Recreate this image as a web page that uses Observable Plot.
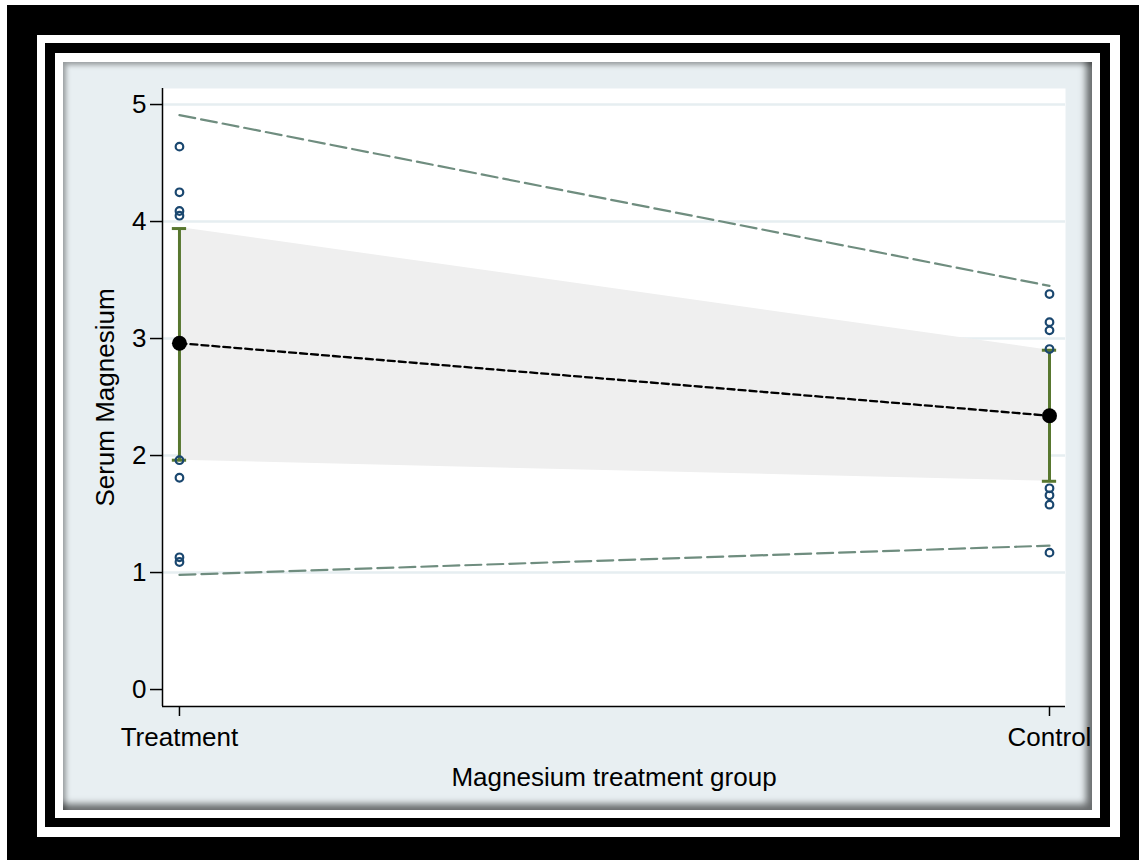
<!DOCTYPE html>
<html>
<head>
<meta charset="utf-8">
<script src="https://cdn.jsdelivr.net/npm/d3@7"></script>
<script src="https://cdn.jsdelivr.net/npm/@observablehq/plot@0.6"></script>
<style>
  html, body { margin: 0; padding: 0; background: #ffffff; }
  body { width: 1139px; height: 860px; position: relative; overflow: hidden; font-family: "Liberation Sans", Arial, sans-serif; }
  .box { position: absolute; }
  #chart { position: absolute; left: 0; top: 0; }
</style>
</head>
<body>
<div class="box" style="left:7px;top:5px;width:1132px;height:855px;background:#000;"></div>
<div class="box" style="left:37px;top:35px;width:1083px;height:802px;background:#fff;"></div>
<div class="box" style="left:45px;top:43px;width:1065px;height:784px;background:#000;"></div>
<div class="box" style="left:55px;top:53px;width:1045px;height:765px;background:#fff;"></div>
<div class="box" style="left:63px;top:62px;width:1029px;height:748px;background:#e8eff2;box-shadow: inset 5px 5px 5px -2px rgba(0,0,0,0.35), inset -9px -9px 7px -3px rgba(0,0,0,0.55);"></div>
<div id="chart"></div>
<script>
// ---- data ----
const groups = ["Treatment", "Control"];
const groupPos = [0, 1];
const treatmentObs = [4.64, 4.25, 4.09, 4.05, 1.96, 1.81, 1.13, 1.09];
const controlObs = [3.38, 3.14, 3.07, 2.91, 1.72, 1.66, 1.58, 1.17];
const means = [2.96, 2.34];
const ciLow = [1.96, 1.78];
const ciHigh = [3.94, 2.90];
const bandLow = [1.96, 1.78];
const bandHigh = [3.95, 2.90];
const piLow = [0.98, 1.23];
const piHigh = [4.91, 3.45];
const yTicks = [0, 1, 2, 3, 4, 5];
const gridTicks = [1, 2, 3, 4, 5];
const xLabel = "Magnesium treatment group";
const yLabel = "Serum Magnesium";

// ---- tables ----
const obs = [
  ...treatmentObs.map(v => ({x: groupPos[0], y: v})),
  ...controlObs.map(v => ({x: groupPos[1], y: v}))
];
const summary = groupPos.map((p, i) => ({
  x: p, mean: means[i], lo: ciLow[i], hi: ciHigh[i],
  bLo: bandLow[i], bHi: bandHigh[i], pLo: piLow[i], pHi: piHigh[i]
}));

const xDom = [-0.0195, 1.0184];
const yDom = [-0.145, 5.137];
const capHalf = 0.0082;
const font = "'Liberation Sans', Arial, sans-serif";

const chart = Plot.plot({
  width: 1139,
  height: 860,
  marginLeft: 162,
  marginRight: 74,
  marginTop: 88,
  marginBottom: 154,
  style: {background: "transparent", fontFamily: font, fontSize: "26px", color: "#000"},
  x: {type: "linear", domain: xDom},
  y: {type: "linear", domain: yDom},
  marks: [
    Plot.frame({fill: "#ffffff", stroke: null}),
    Plot.ruleY(gridTicks, {stroke: "#e6eef1", strokeWidth: 2.5}),
    Plot.areaY(summary, {x: "x", y1: "bLo", y2: "bHi", fill: "#efefef", curve: "linear"}),
    Plot.line(summary, {x: "x", y: "pHi", stroke: "#6f8d7f", strokeWidth: 2.2, strokeDasharray: "16,6"}),
    Plot.line(summary, {x: "x", y: "pLo", stroke: "#6f8d7f", strokeWidth: 2.2, strokeDasharray: "16,6"}),
    Plot.line(summary, {x: "x", y: "mean", stroke: "#000", strokeWidth: 2.3, strokeDasharray: "7,4"}),
    Plot.ruleX(summary, {x: "x", y1: "lo", y2: "hi", stroke: "#58772f", strokeWidth: 3}),
    Plot.ruleY(summary, {y: "lo", x1: d => d.x - capHalf, x2: d => d.x + capHalf, stroke: "#58772f", strokeWidth: 3}),
    Plot.ruleY(summary, {y: "hi", x1: d => d.x - capHalf, x2: d => d.x + capHalf, stroke: "#58772f", strokeWidth: 3}),
    Plot.dot(obs, {x: "x", y: "y", r: 3.8, stroke: "#1a476f", strokeWidth: 2.2, fill: "none"}),
    Plot.dot(summary, {x: "x", y: "mean", r: 7.5, fill: "#000", stroke: "none"}),
    Plot.ruleX([xDom[0]], {stroke: "#000", strokeWidth: 1.5}),
    Plot.ruleY([yDom[0]], {stroke: "#000", strokeWidth: 1.5}),
    Plot.axisY({ticks: yTicks, tickSize: 12, tickPadding: 4, tickFormat: d => String(d),
      fontSize: 26, fill: "#000", stroke: "#000", strokeWidth: 1.5, label: null}),
    Plot.axisX({ticks: groupPos, tickSize: 10, tickPadding: 11, tickFormat: d => groups[d],
      fontSize: 26, fill: "#000", stroke: "#000", strokeWidth: 1.5, label: null}),
    Plot.text([xLabel], {frameAnchor: "bottom", dy: 61, lineAnchor: "top", text: d => d,
      fontSize: 26, fill: "#000", fontFamily: font}),
    Plot.text([yLabel], {frameAnchor: "left", dx: -57, rotate: -90, text: d => d,
      fontSize: 26, fill: "#000", fontFamily: font, textAnchor: "middle", lineAnchor: "middle"})
  ]
});
document.getElementById("chart").appendChild(chart);
</script>
</body>
</html>
